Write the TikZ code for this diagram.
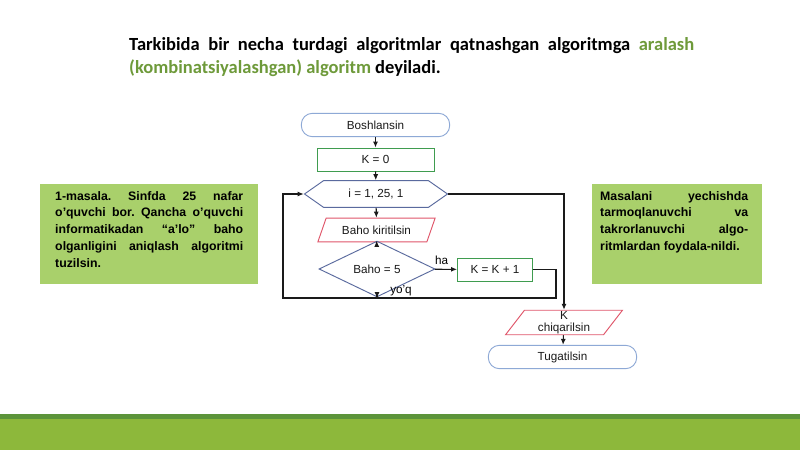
\documentclass[tikz,border=0pt]{standalone}
\usepackage{fontspec}
\setmainfont{Liberation Sans}
\newfontfamily\headfont{Carlito}
\usetikzlibrary{arrows.meta,calc,positioning,shapes.geometric,shapes.symbols}
\definecolor{cbox}{HTML}{A9D06B}
\definecolor{cbar}{HTML}{8DB83B}
\definecolor{cbardark}{HTML}{5C943A}
\definecolor{chead}{HTML}{6E9A3A}
\definecolor{cterm}{HTML}{8EA9D6}
\definecolor{cproc}{HTML}{3F9C4F}
\definecolor{cio}{HTML}{E0566A}
\definecolor{cdec}{HTML}{5A6A9E}
\definecolor{cink}{HTML}{1A1A1A}

\begin{document}
\frenchspacing
\begin{tikzpicture}[
    x=0.03cm, y=-0.03cm,
    >={Latex[length=1.8mm,width=1.5mm]},
    flow/.style={draw, line width=0.8pt, font=\fontsize{10}{11}\selectfont, text=cink, inner sep=1pt},
    term/.style={flow, draw=cterm, rounded corners=0.33cm, minimum width=4.45cm, minimum height=0.7cm},
    proc/.style={flow, draw=cproc, rectangle, minimum height=0.69cm},
    io/.style={flow, draw=cio, trapezium, trapezium left angle=62, trapezium right angle=118,
      trapezium stretches=true, minimum width=3.52cm, minimum height=0.71cm},
    loophex/.style={flow, draw=cdec, signal, signal to=west and east, signal pointer angle=70,
      minimum width=4.29cm, minimum height=0.8cm},
    cond/.style={flow, draw=cdec, diamond, inner sep=0pt, minimum width=3.48cm, minimum height=1.14cm},
    link/.style={draw=cink, line width=0.9pt},
    boxtext/.style={font=\bfseries\fontsize{10.5}{14.3}\selectfont, text=black, align=justify, inner sep=0pt, anchor=north west},
  ]
  \useasboundingbox (0,0) rectangle (800,450);
  \fill[white] (0,0) rectangle (800,450);

  % heading
  \node[anchor=north west, inner sep=0pt, text width=16.95cm, align=justify,
    font=\headfont\bfseries\fontsize{15.8}{19.6}\selectfont] (head) at (129,37)
    {Tarkibida bir necha turdagi algoritmlar qatnashgan algoritmga \textcolor{chead}{aralash}\linebreak
     \textcolor{chead}{(kombinatsiyalashgan) algoritm} deyiladi.};

  % side boxes
  \fill[cbox] (40,184) rectangle (258,284);
  \node[boxtext, text width=5.64cm] (task) at (55,191)
    {1-masala. Sinfda 25 nafar\linebreak o'quvchi bor. Qancha o'quvchi\linebreak
     informatikadan “a'lo” baho\linebreak olganligini aniqlash algoritmi\linebreak tuzilsin.};
  \fill[cbox] (592,184) rectangle (762,284);
  \node[boxtext, text width=4.44cm] (note) at (600,191)
    {Masalani yechishda\linebreak tarmoqlanuvchi va\linebreak takrorlanuvchi algo-\linebreak ritmlardan foydala-nildi.};

  % flowchart
  \node[term] (start) at (375.5,125) {Boshlansin};
  \node[proc, minimum width=3.51cm] (kzero) at (375.5,159.5) {K = 0};
  \node[loophex] (loop) at (376,194) {i = 1, 25, 1};
  \node[io] (input) at (376.5,230) {Baho kiritilsin};
  \node[cond] (test) at (377,269) {Baho = 5};
  \node[proc, minimum width=2.25cm] (inc) at (495,269.5) {K = K + 1};
  \node[io, align=center, font=\fontsize{10}{10}\selectfont] (out) at (564,322.5) {K\\chiqarilsin};
  \node[term] (stop) at (562.5,357) {Tugatilsin};

  \coordinate (back) at (283,298);
  \coordinate (rjoin) at (556,298);

  \draw[link,->] (start) -- (kzero);
  \draw[link,->] (kzero) -- (loop);
  \draw[link,->] (loop) -- (input);
  \draw[link,->] (input) -- (test);
  \draw[link,->] (test) -- node[above, pos=0.3, font=\fontsize{10}{11}\selectfont] (yes) {ha} (inc);
  \draw[link,->] (test.south) -- (test.south |- back);
  \node[font=\fontsize{10}{11}\selectfont] (no) at (401,291) {yo'q};
  \draw[link,->] (inc.east) -| (rjoin) -- (back) |- (loop.west);
  \draw[link,->] (loop.east) -| (out.north);
  \draw[link,->] (out) -- (stop);

  % bottom band
  \fill[cbar] (0,415) rectangle (800,450);
  \fill[cbardark] (0,414) rectangle (800,419);
\end{tikzpicture}
\end{document}
